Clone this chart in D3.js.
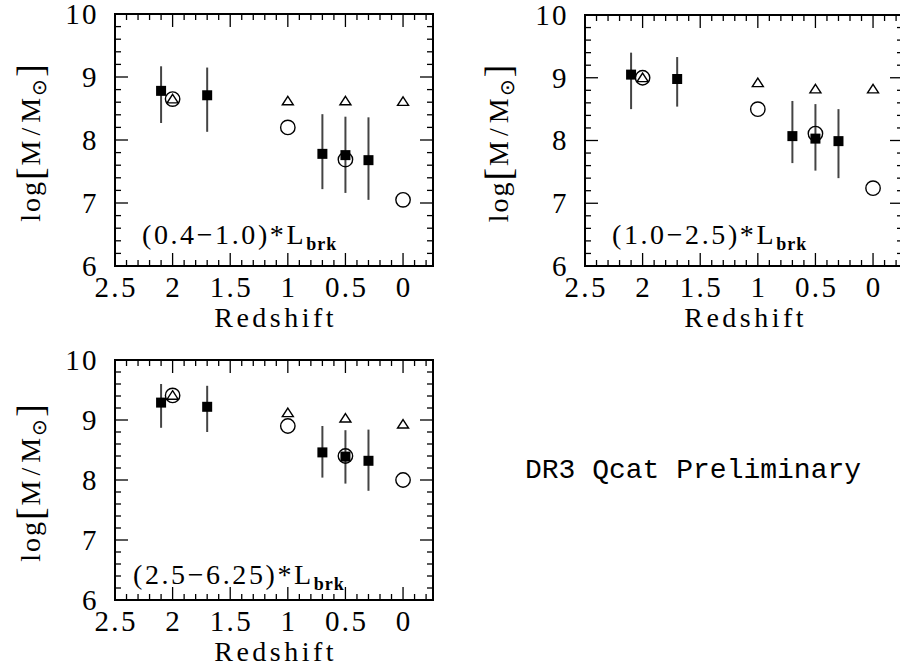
<!DOCTYPE html>
<html>
<head>
<meta charset="utf-8">
<script src="https://cdn.jsdelivr.net/npm/d3@7"></script>
<style>
  html, body { margin: 0; padding: 0; background: #fff; }
  svg { display: block; }
</style>
</head>
<body>
<svg id="chart" width="900" height="671"></svg>
<script>
// ---------------- DATA ----------------
const squareZ = [2.1, 1.7, 0.7, 0.5, 0.3];
const openZ = [2.0, 1.0, 0.5, 0.0];

const panelLabels = ["(0.4\u22121.0)*L", "(1.0\u22122.5)*L", "(2.5\u22126.25)*L"];
const panelSub = "brk";

// Panel 1: (0.4-1.0)*Lbrk
const p1Square = [8.78, 8.71, 7.78, 7.76, 7.68];
const p1Low    = [8.27, 8.13, 7.22, 7.16, 7.05];
const p1High   = [9.17, 9.15, 8.41, 8.37, 8.36];
const p1Circle = [8.65, 8.20, 7.69, 7.05];
const p1Tri    = [8.65, 8.62, 8.62, 8.61];

// Panel 2: (1.0-2.5)*Lbrk
const p2Square = [9.05, 8.98, 8.07, 8.03, 7.99];
const p2Low    = [8.50, 8.54, 7.64, 7.52, 7.40];
const p2High   = [9.40, 9.33, 8.63, 8.58, 8.50];
const p2Circle = [9.00, 8.50, 8.11, 7.24];
const p2Tri    = [9.00, 8.92, 8.82, 8.82];

// Panel 3: (2.5-6.25)*Lbrk
const p3Square = [9.29, 9.22, 8.46, 8.39, 8.32];
const p3Low    = [8.87, 8.80, 8.04, 7.94, 7.82];
const p3High   = [9.60, 9.57, 8.90, 8.83, 8.84];
const p3Circle = [9.41, 8.90, 8.40, 8.00];
const p3Tri    = [9.41, 9.12, 9.03, 8.93];

const xTickLabels = ["2.5", "2", "1.5", "1", "0.5", "0"];
const xTickValues = [2.5, 2, 1.5, 1, 0.5, 0];
const yTickLabels = ["6", "7", "8", "9", "10"];
const yTickValues = [6, 7, 8, 9, 10];
const xTitle = "Redshift";
const watermark = "DR3 Qcat Preliminary";

// ---------------- LAYOUT ----------------
const panels = [
  { left: 115, right: 433, top: 14, bottom: 266, ylabX: 31,
    sq: p1Square, lo: p1Low, hi: p1High, circ: p1Circle, tri: p1Tri,
    label: panelLabels[0], labX: 142, labDy: -22 },
  { left: 585, right: 903, top: 15, bottom: 266, ylabX: 499,
    sq: p2Square, lo: p2Low, hi: p2High, circ: p2Circle, tri: p2Tri,
    label: panelLabels[1], labX: 612, labDy: -22 },
  { left: 115, right: 433, top: 360, bottom: 600, ylabX: 31,
    sq: p3Square, lo: p3Low, hi: p3High, circ: p3Circle, tri: p3Tri,
    label: panelLabels[2], labX: 133, labDy: -16 }
];

const svg = d3.select("#chart");
const serif = "'Liberation Serif', serif";

function drawPanel(p) {
  const x = d3.scaleLinear().domain([2.5, -0.26]).range([p.left, p.right]);
  const y = d3.scaleLinear().domain([6, 10]).range([p.bottom, p.top]);
  const g = svg.append("g");

  const majorLen = 13, minorLen = 6;
  const xMinor = d3.range(-2, 26).map(v => v / 10);
  const yMinor = d3.range(30, 51).map(v => v / 5);
  const isMajorX = v => Math.abs(v * 2 - Math.round(v * 2)) < 1e-6;
  const isMajorY = v => Math.abs(v - Math.round(v)) < 1e-6;

  // ticks (inward, on all four sides)
  const tickG = g.append("g").attr("stroke", "#000").attr("stroke-width", 1.3);
  xMinor.forEach(v => {
    const len = isMajorX(v) ? majorLen : minorLen;
    const px = x(v);
    tickG.append("line").attr("x1", px).attr("x2", px).attr("y1", p.bottom).attr("y2", p.bottom - len);
    tickG.append("line").attr("x1", px).attr("x2", px).attr("y1", p.top).attr("y2", p.top + len);
  });
  yMinor.forEach(v => {
    const len = isMajorY(v) ? majorLen : minorLen;
    const py = y(v);
    tickG.append("line").attr("x1", p.left).attr("x2", p.left + len).attr("y1", py).attr("y2", py);
    tickG.append("line").attr("x1", p.right).attr("x2", p.right - len).attr("y1", py).attr("y2", py);
  });

  // frame
  g.append("rect")
    .attr("x", p.left).attr("y", p.top)
    .attr("width", p.right - p.left).attr("height", p.bottom - p.top)
    .attr("fill", "none").attr("stroke", "#000").attr("stroke-width", 2);

  // tick labels
  g.selectAll(".xt").data(xTickValues).enter().append("text")
    .attr("x", (d) => x(d) + 1.2).attr("y", p.bottom + 31)
    .attr("text-anchor", "middle")
    .attr("font-family", serif).attr("font-size", 29).attr("letter-spacing", 2.4)
    .text((d, i) => xTickLabels[i]);
  g.selectAll(".yt").data(yTickValues).enter().append("text")
    .attr("x", p.left - 16).attr("y", d => y(d)).attr("dy", "0.34em")
    .attr("text-anchor", "end")
    .attr("font-family", serif).attr("font-size", 29).attr("letter-spacing", 2.4)
    .text((d, i) => yTickLabels[i]);

  // axis titles
  g.append("text")
    .attr("x", (p.left + p.right) / 2 + 1.7).attr("y", p.bottom + 61)
    .attr("text-anchor", "middle")
    .attr("font-family", serif).attr("font-size", 28).attr("letter-spacing", 3.5)
    .text(xTitle);

  const yc = (p.top + p.bottom) / 2 + 2;
  const yl = g.append("text")
    .attr("transform", `translate(${p.ylabX + 9},${yc}) rotate(-90)`)
    .attr("text-anchor", "middle")
    .attr("font-family", serif).attr("font-size", 28).attr("letter-spacing", 2);
  yl.append("tspan").text("log");
  yl.append("tspan").attr("font-size", 38).attr("dy", 3).text("[");
  yl.append("tspan").attr("dy", -3).text("M");
  yl.append("tspan").attr("dx", 3).text("/");
  yl.append("tspan").attr("dx", 3).text("M");
  yl.append("tspan").attr("font-size", 20).attr("dy", 6).text("\u2299");
  yl.append("tspan").attr("font-size", 38).attr("dy", -3).text("]");

  // panel label
  const lab = g.append("text")
    .attr("x", p.labX).attr("y", p.bottom + p.labDy)
    .attr("font-family", serif).attr("font-size", 28).attr("letter-spacing", 2.6);
  lab.append("tspan").text(p.label);
  lab.append("tspan").attr("dy", 6).attr("font-size", 18).attr("font-weight", "bold")
    .attr("letter-spacing", 1).text(panelSub);

  // error bars
  g.selectAll(".eb").data(squareZ).enter().append("line")
    .attr("x1", d => x(d)).attr("x2", d => x(d))
    .attr("y1", (d, i) => y(p.lo[i])).attr("y2", (d, i) => y(p.hi[i]))
    .attr("stroke", "#444").attr("stroke-width", 2);

  // open circles
  g.selectAll(".oc").data(openZ).enter().append("circle")
    .attr("cx", d => x(d)).attr("cy", (d, i) => y(p.circ[i]))
    .attr("r", 7.2).attr("fill", "none").attr("stroke", "#000").attr("stroke-width", 1.4);

  // open triangles
  const tw = 5.5, th = 8.5;
  g.selectAll(".tr").data(openZ).enter().append("path")
    .attr("d", (d, i) => {
      const cx = x(d), cy = y(p.tri[i]);
      return `M${cx},${cy - th * 0.55}L${cx + tw},${cy + th * 0.45}L${cx - tw},${cy + th * 0.45}Z`;
    })
    .attr("fill", "none").attr("stroke", "#000").attr("stroke-width", 1.4);

  // filled squares
  const s = 10;
  g.selectAll(".sq").data(squareZ).enter().append("rect")
    .attr("x", d => x(d) - s / 2).attr("y", (d, i) => y(p.sq[i]) - s / 2)
    .attr("width", s).attr("height", s).attr("fill", "#000");
}

panels.forEach(drawPanel);

svg.append("text")
  .attr("x", 525).attr("y", 478)
  .attr("font-family", "'Liberation Mono', monospace").attr("font-size", 28)
  .text(watermark);
</script>
</body>
</html>
